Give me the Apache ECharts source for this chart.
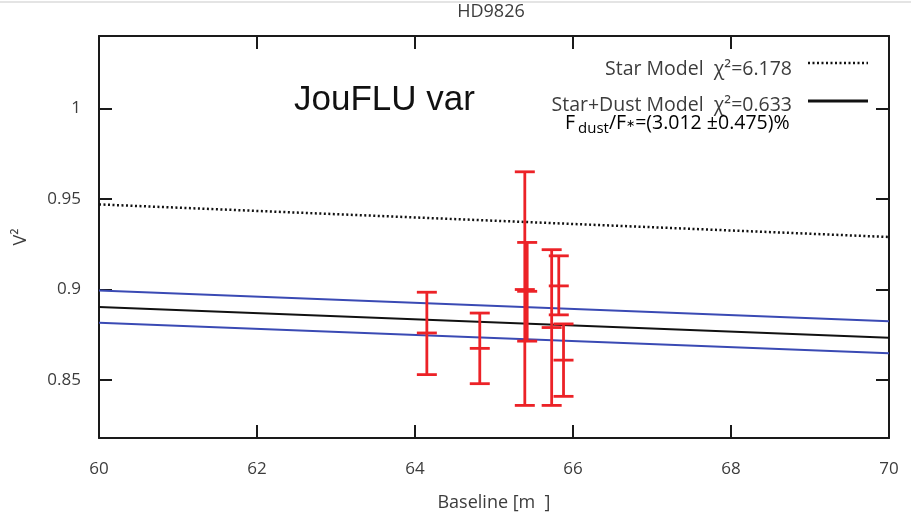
<!DOCTYPE html>
<html>
<head>
<meta charset="utf-8">
<script src="https://cdn.jsdelivr.net/npm/echarts@6/dist/echarts.min.js"></script>
<style>
  html, body { margin: 0; padding: 0; background: #fff; }
  #chart { width: 911px; height: 514px; }
</style>
</head>
<body>
<div id="chart"></div>
<script>
// measured points: baseline [m], V^2 and its error range
const baselines = [64.15, 64.82, 65.39, 65.42, 65.73, 65.82, 65.88];
const v2Values  = [0.876, 0.8675, 0.900, 0.899, 0.879, 0.902, 0.861];
const v2Low     = [0.853, 0.848, 0.836, 0.8715, 0.836, 0.886, 0.841];
const v2High    = [0.8985, 0.887, 0.965, 0.926, 0.922, 0.9186, 0.881];

// model curves (straight over the baseline range)
const modelX     = [60, 70];
const starModel  = [0.947, 0.929];
const dustModel  = [0.8903, 0.8733];
const dustUpper  = [0.8995, 0.8825];
const dustLower  = [0.8816, 0.8648];

const yTicks = [0.85, 0.9, 0.95, 1];

const labelFont = "'Open Sans', sans-serif";
const txtColor = '#3c3c3c';

let myChart = echarts.init(document.getElementById('chart'));

function pairs(ys) {
  return modelX.map((x, i) => [x, ys[i]]);
}

let errData = baselines.map((b, i) => [b, v2Values[i], v2Low[i], v2High[i]]);

let axisLine = { show: true, onZero: false, lineStyle: { color: '#1a1a1a', width: 2 } };
let axisTick = { show: true, inside: true, length: 13, lineStyle: { color: '#1a1a1a', width: 2 } };

let option = {
  animation: false,
  backgroundColor: '#fff',
  title: {
    text: 'HD9826',
    left: 491,
    top: 3,
    padding: 0,
    textAlign: 'center',
    textStyle: { fontFamily: labelFont, fontSize: 18, fontWeight: 'normal', color: txtColor }
  },
  grid: { left: 99, right: 22, top: 36, bottom: 76, containLabel: false, outerBoundsMode: 'none' },
  xAxis: [
    {
      type: 'value', min: 60, max: 70, interval: 2,
      name: 'Baseline [m  ]', nameLocation: 'middle', nameGap: 56,
      nameTextStyle: { fontFamily: labelFont, fontSize: 18, color: txtColor },
      axisLine: axisLine, axisTick: axisTick,
      axisLabel: { margin: 23, fontFamily: labelFont, fontSize: 17, color: txtColor },
      splitLine: { show: false }
    },
    {
      type: 'value', min: 60, max: 70, interval: 2, position: 'top',
      axisLine: axisLine, axisTick: axisTick,
      axisLabel: { show: false }, splitLine: { show: false }
    }
  ],
  yAxis: [
    {
      type: 'value', min: 0.818, max: 1.04,
      name: 'V²', nameLocation: 'middle', nameGap: 69, nameRotate: 90,
      nameTextStyle: { fontFamily: labelFont, fontSize: 18, color: txtColor },
      axisLine: axisLine,
      axisTick: Object.assign({ customValues: yTicks }, axisTick),
      axisLabel: { customValues: yTicks, margin: 18, fontFamily: labelFont, fontSize: 17, color: txtColor },
      splitLine: { show: false }
    },
    {
      type: 'value', min: 0.818, max: 1.04, position: 'right',
      axisLine: axisLine,
      axisTick: Object.assign({ customValues: yTicks }, axisTick),
      axisLabel: { show: false }, splitLine: { show: false }
    }
  ],
  graphic: [
    { type: 'rect', shape: { x: 0, y: 1, width: 911, height: 2 }, style: { fill: '#e4e4e4' } },
    {
      type: 'text', left: 294, top: 83,
      style: { text: 'JouFLU var', font: "35px 'Liberation Sans', Arial, sans-serif", fill: '#111' }
    },
    {
      type: 'text', x: 792, y: 69,
      style: { text: 'Star Model  χ²=6.178', font: "19.5px " + labelFont, fill: txtColor, align: 'right', verticalAlign: 'middle' }
    },
    {
      type: 'text', x: 792, y: 105,
      style: { text: 'Star+Dust Model  χ²=0.633', font: "19.5px " + labelFont, fill: txtColor, align: 'right', verticalAlign: 'middle' }
    },
    {
      type: 'text', x: 565, y: 113,
      style: {
        text: '{n|F}{s|dust}{n|/F}{k|∗}{n|=(3.012 ±0.475)%}',
        rich: {
          n: { fontFamily: labelFont, fontSize: 19.5, color: txtColor, lineHeight: 23, verticalAlign: 'top' },
          s: { fontFamily: labelFont, fontSize: 15, color: txtColor, verticalAlign: 'bottom', lineHeight: 23, padding: [0, 0, 0, 3] },
          k: { fontFamily: labelFont, fontSize: 11, color: txtColor, verticalAlign: 'top', lineHeight: 23, padding: [5, 0, 0, 0] }
        }
      }
    },
    {
      type: 'line', shape: { x1: 808, y1: 63, x2: 868, y2: 63 },
      style: { stroke: '#111', lineWidth: 2.5, lineDash: [2, 2.5] }
    },
    {
      type: 'line', shape: { x1: 808, y1: 101, x2: 868, y2: 101 },
      style: { stroke: '#111', lineWidth: 3 }
    }
  ],
  series: [
    {
      name: 'Star Model', type: 'line', data: pairs(starModel), symbol: 'none',
      lineStyle: { color: '#111', width: 2.5, type: [2, 2.5] }, z: 2
    },
    {
      name: 'Star+Dust Model', type: 'line', data: pairs(dustModel), symbol: 'none',
      lineStyle: { color: '#111', width: 2 }, z: 2
    },
    {
      name: 'upper', type: 'line', data: pairs(dustUpper), symbol: 'none',
      lineStyle: { color: '#3a4ab4', width: 2 }, z: 2
    },
    {
      name: 'lower', type: 'line', data: pairs(dustLower), symbol: 'none',
      lineStyle: { color: '#3a4ab4', width: 2 }, z: 2
    },
    {
      name: 'data', type: 'custom', z: 5,
      data: errData,
      renderItem: function(params, api) {
        let x = api.value(0);
        let c = api.coord([x, api.value(1)]);
        let lo = api.coord([x, api.value(2)]);
        let hi = api.coord([x, api.value(3)]);
        let hw = 10;
        let st = { stroke: '#ec2227', lineWidth: 2.8 };
        return {
          type: 'group',
          children: [
            { type: 'line', shape: { x1: c[0], y1: lo[1], x2: c[0], y2: hi[1] }, style: st },
            { type: 'line', shape: { x1: c[0] - hw, y1: lo[1], x2: c[0] + hw, y2: lo[1] }, style: st },
            { type: 'line', shape: { x1: c[0] - hw, y1: hi[1], x2: c[0] + hw, y2: hi[1] }, style: st },
            { type: 'line', shape: { x1: c[0] - hw, y1: c[1], x2: c[0] + hw, y2: c[1] }, style: st }
          ]
        };
      }
    }
  ]
};
myChart.setOption(option, (window.onresize = myChart.resize));
</script>
</body>
</html>
